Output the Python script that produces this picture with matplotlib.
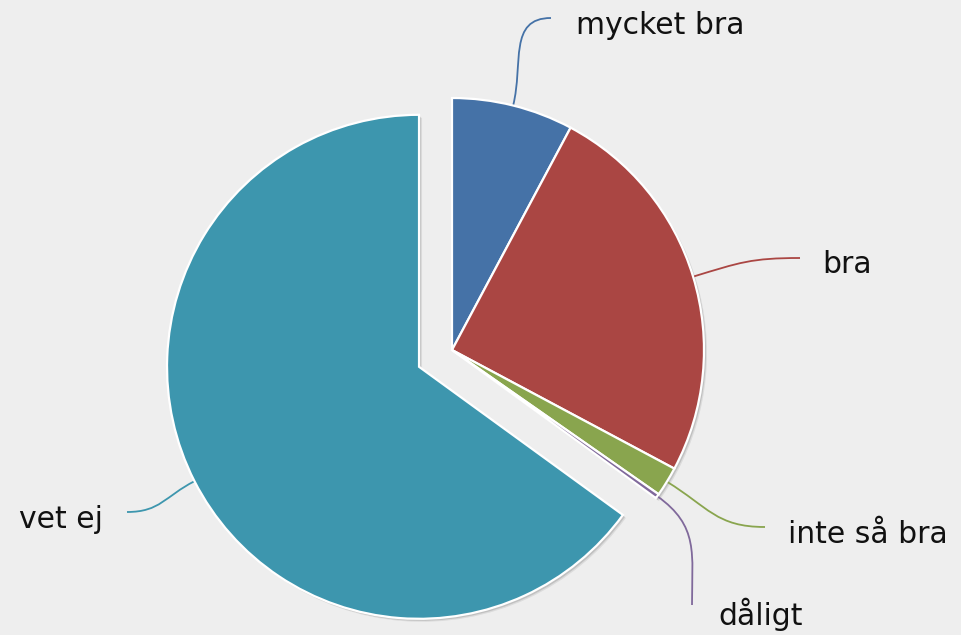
import numpy as np
import matplotlib
matplotlib.use("Agg")
import matplotlib.pyplot as plt
from matplotlib.patches import Wedge
from matplotlib.path import Path
import matplotlib.patches as mpatches

labels = ["mycket bra", "bra", "inte så bra", "dåligt", "vet ej"]
values = [7.8, 25.0, 1.9, 0.3, 65.0]
colors = ["#4572A7", "#AA4643", "#89A54E", "#80699B", "#3D96AE"]

W, H = 961, 635
fig = plt.figure(figsize=(W / 100, H / 100), dpi=100)
fig.patch.set_facecolor("#EEEEEE")
ax = fig.add_axes([0, 0, 1, 1])
ax.set_facecolor("#EEEEEE")

cx, cy, R = 452, H - 350, 252
# pie explode is absolute (data units) when radius != 1
explode = [0, 0, 0, 0, 37]
wedges, _ = ax.pie(values, colors=colors, explode=explode, startangle=90,
                   counterclock=False, radius=R, center=(cx, cy),
                   wedgeprops=dict(edgecolor="white", linewidth=1.6))

# soft shadow under the slices
for w in wedges:
    for off, a in [(3, 0.08), (2, 0.12)]:
        sh = Wedge((w.center[0] + off, w.center[1] - off), w.r, w.theta1, w.theta2,
                   facecolor="black", edgecolor="none", alpha=a, zorder=w.get_zorder() - 0.5)
        ax.add_patch(sh)

# label end points and text anchors (pixel coords, y down)
ends = [(551, 18), (800, 258), (765, 527), (692, 605), (127, 512)]
end_dirs = [(-1, 0), (-1, 0), (-1, 0), (0, -1), (1, 0)]
text_pos = [(576, 34), (822, 273), (788, 543), (718, 625), (103, 528)]
aligns = ["left", "left", "left", "left", "right"]

for w, lab, col, e, d, tp, ha in zip(wedges, labels, colors, ends, end_dirs, text_pos, aligns):
    mid = np.deg2rad((w.theta1 + w.theta2) / 2)
    ux, uy = np.cos(mid), np.sin(mid)
    p0 = (w.center[0] + w.r * ux, w.center[1] + w.r * uy)
    p3 = (e[0], H - e[1])
    dist = np.hypot(p3[0] - p0[0], p3[1] - p0[1])
    p1 = (p0[0] + ux * dist * 0.45, p0[1] + uy * dist * 0.45)
    p2 = (p3[0] + d[0] * dist * 0.45, p3[1] - d[1] * dist * 0.45)
    path = Path([p0, p1, p2, p3], [Path.MOVETO, Path.CURVE4, Path.CURVE4, Path.CURVE4])
    ax.add_patch(mpatches.PathPatch(path, facecolor="none", edgecolor=col, lw=1.3, zorder=0.5))
    ax.text(tp[0], H - tp[1], lab, ha=ha, va="baseline", fontsize=21.5,
            family="DejaVu Sans", color="#111111")

ax.set_xlim(0, W)
ax.set_ylim(0, H)
ax.set_aspect("equal")
ax.axis("off")

fig.savefig("out.png", dpi=100, facecolor=fig.get_facecolor())
